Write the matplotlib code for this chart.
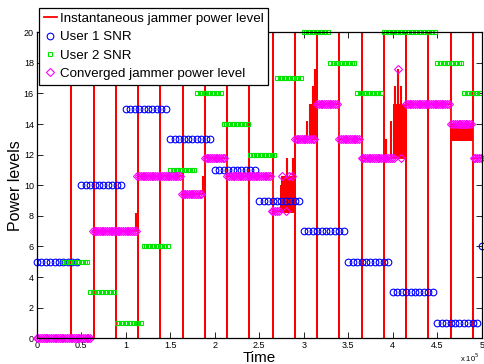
import numpy as np
import matplotlib.pyplot as plt

plt.rcParams['font.family'] = ['Liberation Sans', 'DejaVu Sans']

# ---- data (time in units of 1e5) ----
# User 1 SNR: level changes every 0.5, sampled every 0.05
u1_change = [0.0, 0.5, 1.0, 1.5, 2.0, 2.5, 3.0, 3.5, 4.0, 4.5, 5.0]
u1_level = [5, 10, 15, 13, 11, 9, 7, 5, 3, 1, 6]

# User 2 SNR: level changes every 0.3, sampled every 0.03
u2_change = [0.3, 0.6, 0.9, 1.2, 1.5, 1.8, 2.1, 2.4, 2.7, 3.0, 3.3, 3.6, 3.9, 4.2, 4.5, 4.8]
u2_level = [5, 3, 1, 6, 11, 16, 14, 12, 17, 20, 18, 16, 20, 20, 18, 16]

# converged jammer power level (segments where it is shown)
conv_start = [0.0, 0.63, 1.13, 1.63, 1.89, 2.14, 2.64, 2.80, 2.76, 2.83, 2.87, 2.90, 3.15,
              3.40, 3.65, 4.09, 4.065, 4.15, 4.66, 4.91]
conv_end = [0.60, 1.11, 1.62, 1.86, 2.12, 2.62, 2.73, 2.80, 2.76, 2.83, 2.87, 3.13, 3.38,
            3.63, 4.02, 4.09, 4.065, 4.63, 4.89, 5.0]
conv_level = [0.0, 7.0, 10.6, 9.4, 11.8, 10.6, 8.3, 8.3, 10.6, 10.6, 10.6, 13.0, 15.3,
              13.0, 11.8, 11.8, 17.6, 15.3, 14.0, 11.8]

# instantaneous jammer power: restarts (jump to 20 and 0) and level afterwards
spike_x = [0.0, 0.39, 0.64, 0.89, 1.14, 1.39, 1.64, 1.89, 2.14, 2.39, 2.65, 2.90, 3.15,
           3.40, 3.65, 3.90, 4.15, 4.40, 4.65, 4.90]
red_level = [0.0, 0.0, 7.0, 7.0, 10.6, 10.6, 9.4, 11.8, 10.6, 10.6, 8.3, 13.0, 15.3,
             13.0, 11.8, 11.8, 15.3, 15.3, 14.0, 11.8]

# fast oscillation bands of the instantaneous level
band_x0 = [2.73, 2.75, 3.06, 4.00, 4.66]
band_x1 = [2.75, 2.89, 3.15, 4.15, 4.90]
band_lo = [8.2, 8.2, 13.0, 11.8, 12.9]
band_hi = [10.0, 10.6, 15.3, 15.3, 14.1]

# short excursions
jump_x = [1.12, 1.87, 2.38, 2.81, 2.88, 3.04, 3.07, 3.10, 3.125, 3.14,
          3.93, 3.98, 4.03, 4.065, 4.09]
jump_lo = [7.0, 9.4, 9.4, 10.6, 10.6, 13.0, 13.0, 13.0, 13.0, 13.0,
           11.8, 11.8, 11.8, 11.8, 11.8]
jump_hi = [8.2, 10.6, 10.6, 11.8, 11.8, 14.2, 15.3, 16.5, 17.6, 16.5,
           13.0, 14.2, 16.5, 17.6, 16.5]

# ---- build plotted series ----
t1 = np.arange(0, 5.0 + 1e-9, 0.05)
y1 = np.array(u1_level)[np.searchsorted(u1_change, t1 + 1e-9, side='right') - 1]
t2 = np.arange(0.3, 5.0 + 1e-9, 0.03)
y2 = np.array(u2_level)[np.searchsorted(u2_change, t2 + 1e-9, side='right') - 1]

tc, yc = [], []
for s, e, lv in zip(conv_start, conv_end, conv_level):
    pts = np.arange(s, e + 1e-9, 0.02)
    tc.extend(pts)
    yc.extend([lv] * len(pts))

rx, ry = [], []
prev = 0.0
for s, lv in zip(spike_x, red_level):
    rx += [s, s, s, s]
    ry += [prev, 20, 0, lv]
    prev = lv
rx.append(5.0)
ry.append(prev)

fig = plt.figure(figsize=(4.85, 3.64), dpi=100)
ax = fig.add_axes([0.0757, 0.0706, 0.9175, 0.8407])

for x0, x1, lo, hi in zip(band_x0, band_x1, band_lo, band_hi):
    ax.fill_between([x0, x1], [lo, lo], [hi, hi], color='red', lw=0)
ax.vlines(jump_x, jump_lo, jump_hi, color='red', lw=1.5)
ax.plot(rx, ry, color='red', lw=1.3, label='Instantaneous jammer power level')
ax.plot(t1, y1, 'o', color='blue', mfc='none', ms=4.8, mew=0.8, clip_on=False,
        label='User 1 SNR')
ax.plot(t2, y2, 's', color='#00e600', mfc='none', ms=3.4, mew=0.8, clip_on=False,
        label='User 2 SNR')
ax.plot(tc, yc, 'D', color='magenta', mfc='none', ms=3.8, mew=0.8, clip_on=False,
        label='Converged jammer power level')

ax.set_xlim(0, 5)
ax.set_ylim(0, 20)
ax.set_xticks(np.arange(0, 5.01, 0.5))
ax.set_xticklabels(['0', '0.5', '1', '1.5', '2', '2.5', '3', '3.5', '4', '4.5', '5'])
ax.set_yticks(np.arange(0, 21, 2))
ax.tick_params(direction='in', top=True, right=True, length=4, width=0.6,
               labelsize=6.5, pad=2)
for sp in ax.spines.values():
    sp.set_linewidth(0.9)

ax.set_xlabel('Time', fontsize=11)
ax.xaxis.set_label_coords(0.5, -0.042)
ax.set_ylabel('Power levels', fontsize=11.5)
ax.yaxis.set_label_coords(-0.03, 0.5)
fig.text(0.948, 0.0165, r'x 10$^5$', fontsize=5.5, va='center')

leg = ax.legend(loc='upper left', bbox_to_anchor=(0.0804, 0.978),
                bbox_transform=fig.transFigure, fontsize=9.6, fancybox=False,
                framealpha=1, edgecolor='black', borderaxespad=0, borderpad=0.35,
                labelspacing=0.45, handlelength=1.0, handletextpad=0.2)
leg.get_frame().set_linewidth(0.9)

fig.savefig('out.png', dpi=100)
